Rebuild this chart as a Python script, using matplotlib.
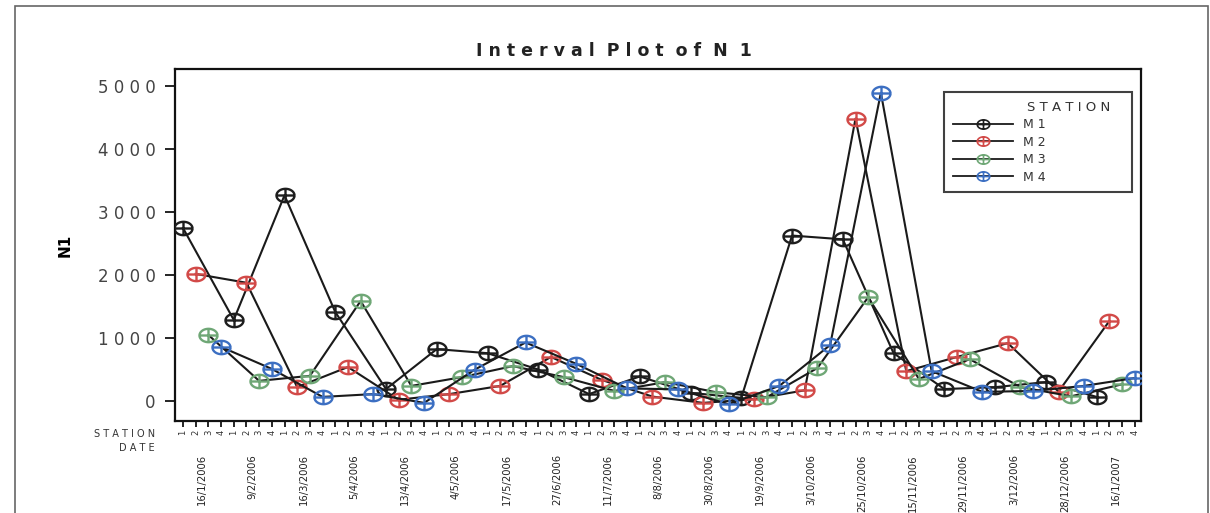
import matplotlib
matplotlib.use("Agg")
import matplotlib.pyplot as plt
import numpy as np
from matplotlib.path import Path
from matplotlib.lines import Line2D
from matplotlib.patches import Rectangle
import matplotlib.transforms as mtransforms

DATES = ["16/1/2006", "9/2/2006", "16/3/2006", "5/4/2006", "13/4/2006",
         "4/5/2006", "17/5/2006", "27/6/2006", "11/7/2006", "8/8/2006",
         "30/8/2006", "19/9/2006", "3/10/2006", "25/10/2006", "15/11/2006",
         "29/11/2006", "3/12/2006", "28/12/2006", "16/1/2007"]
STATIONS = ["M 1", "M 2", "M 3", "M 4"]
STATION_TICKS = ["1", "2", "3", "4"]

M1 = [2750, 1290, 3270, 1415, 190, 825, 760, 500, 110, 390,
      130, 50, 2630, 2570, 760, 190, 220, 300, 65]
M2 = [2020, 1880, 220, 540, 20, 110, 240, 700, 335, 70,
      -30, 30, 170, 4490, 475, 700, 920, 150, 1270]
M3 = [1050, 320, 400, 1590, 240, 380, 555, 380, 160, 300,
      140, 60, 525, 1650, 350, 665, 220, 75, 265]
M4 = [860, 510, 65, 110, -30, 500, 930, 590, 200, 185,
      -50, 240, 890, 4900, 475, 145, 160, 240, 365]
SERIES = [M1, M2, M3, M4]
COLORS = ["#1e1e1e", "#d24a48", "#6fa776", "#3c6fc2"]


def spaced(s):
    return " ".join(s)


# ellipse with a cross inside (the Minitab interval symbol)
t = np.linspace(0, 2 * np.pi, 49)
verts = list(zip(1.35 * np.cos(t), np.sin(t)))
codes = [Path.MOVETO] + [Path.LINETO] * (len(verts) - 1)
verts += [(-1.35, 0), (1.35, 0), (0, -1), (0, 1)]
codes += [Path.MOVETO, Path.LINETO, Path.MOVETO, Path.LINETO]
OPLUS = Path(verts, codes)

fig = plt.figure(figsize=(12.10, 5.13), dpi=100)
ax = fig.add_axes([175 / 1210, 1 - 421 / 513, (1141 - 175) / 1210, (421 - 69) / 513])

nd = len(DATES)
for s, (vals, col) in enumerate(zip(SERIES, COLORS)):
    x = np.arange(nd) * 4 + s
    ax.plot(x, vals, color="#1a1a1a", linewidth=1.5, marker=OPLUS,
            markersize=13, markerfacecolor="none", markeredgecolor=col,
            markeredgewidth=1.7, zorder=3)

ax.set_xlim(-0.63, 75.5)
ax.set_ylim(-318, 5278)

yt = [0, 1000, 2000, 3000, 4000, 5000]
ax.set_yticks(yt)
ax.set_yticklabels([spaced(str(v)) for v in yt], fontsize=12, color="#444")
ax.tick_params(axis="y", length=7, width=1.2, pad=7)

ax.set_xticks(np.arange(nd * 4))
ax.set_xticklabels(STATION_TICKS * nd, rotation=90, fontsize=6, color="#333")
ax.tick_params(axis="x", length=4, width=1.2, pad=2)

for sp in ax.spines.values():
    sp.set_linewidth(1.6)
    sp.set_color("#111")

ax.set_ylabel("N1", fontsize=11, fontweight="bold", labelpad=18)

trans = mtransforms.blended_transform_factory(ax.transData, ax.transAxes)
for d, lab in enumerate(DATES):
    ax.annotate(lab, xy=(d * 4 + 1.5, 0), xycoords=trans,
                xytext=(0, -24), textcoords="offset points",
                rotation=90, ha="center", va="top", fontsize=7.2, color="#222")

fig.text(155 / 1210, 1 - 434 / 513, spaced("STATION"), ha="right", va="center",
         fontsize=7, color="#333")
fig.text(155 / 1210, 1 - 448 / 513, spaced("DATE"), ha="right", va="center",
         fontsize=7, color="#333")

fig.text(614 / 1210, 1 - 51 / 513, "I n t e r v a l  P l o t  o f  N  1",
         ha="center", va="center", fontsize=12.5, fontweight="bold", color="#222")

handles = [Line2D([0], [0], color="#1a1a1a", linewidth=1.3, marker=OPLUS,
                  markersize=9, markerfacecolor="none", markeredgecolor=c,
                  markeredgewidth=1.2) for c in COLORS]
leg = ax.legend(handles, STATIONS, title=spaced("STATION") + "   ",
                loc="upper left", bbox_to_anchor=(0.796, 0.656, 0.1946, 0.2787),
                mode="expand", fontsize=9, title_fontsize=9.5, handlelength=4.8,
                frameon=True, fancybox=False, borderpad=0.7, borderaxespad=0,
                labelspacing=0.36, alignment="right")
leg.get_frame().set_edgecolor("#111")
leg.get_frame().set_linewidth(1.5)
for txt in leg.get_texts():
    txt.set_color("#333")
leg.get_title().set_color("#333")

fig.add_artist(Rectangle((15 / 1210, -0.05), (1208 - 15) / 1210, 1.05 - 6 / 513,
                         transform=fig.transFigure, fill=False,
                         edgecolor="#666", linewidth=1.2))

fig.savefig("out.png", dpi=100, facecolor="white")
